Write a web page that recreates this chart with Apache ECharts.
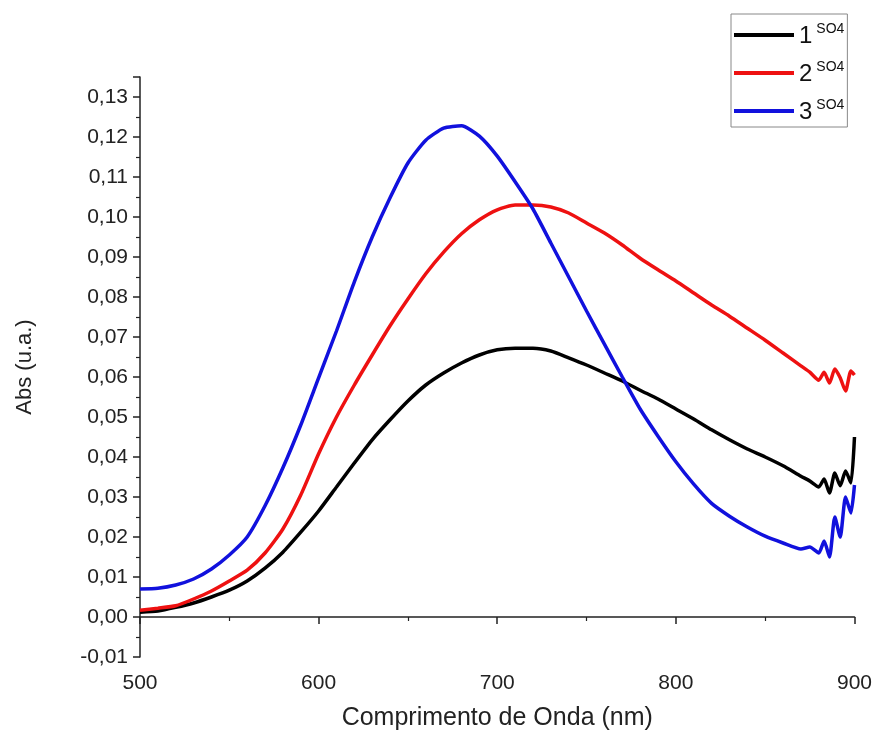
<!DOCTYPE html>
<html>
<head>
<meta charset="utf-8">
<script src="https://cdn.jsdelivr.net/npm/echarts@6/dist/echarts.min.js"></script>
<style>
html,body{margin:0;padding:0;background:#fff;}
#chart{width:875px;height:742px;}
</style>
</head>
<body>
<div id="chart"></div>
<script>
// Wavelength (nm)
var wavelengths = [500,510,520,530,540,550,560,570,580,590,600,610,620,630,640,650,660,670,680,690,700,710,720,730,740,750,760,770,780,790,800,810,820,830,840,850,860,870,875,880,883,886,889,892,895,898,900];

var seriesNames = ['1','2','3'];

var abs1 = [0.0012,0.0015,0.0024,0.0035,0.0050,0.0067,0.0090,0.0122,0.0162,0.0212,0.0265,0.0325,0.0385,0.0443,0.0493,0.0540,0.0580,0.0610,0.0635,0.0655,0.0668,0.0672,0.0672,0.0665,0.0648,0.0630,0.0610,0.0590,0.0567,0.0545,0.0520,0.0495,0.0468,0.0443,0.0420,0.0400,0.0378,0.0352,0.0340,0.0325,0.0345,0.0310,0.0360,0.0328,0.0365,0.0335,0.0450];

var abs2 = [0.0017,0.0022,0.0028,0.0045,0.0065,0.0090,0.0117,0.0160,0.0220,0.0305,0.0408,0.0500,0.0580,0.0655,0.0728,0.0795,0.0858,0.0912,0.0958,0.0993,0.1018,0.1030,0.1030,0.1025,0.1010,0.0985,0.0960,0.0930,0.0897,0.0868,0.0840,0.0810,0.0780,0.0752,0.0722,0.0692,0.0660,0.0628,0.0612,0.0592,0.0612,0.0585,0.0620,0.0598,0.0565,0.0615,0.0605];

var abs3 = [0.0070,0.0072,0.0080,0.0095,0.0120,0.0155,0.0200,0.0278,0.0373,0.0480,0.0598,0.0715,0.0838,0.0950,0.1048,0.1135,0.1192,0.1222,0.1228,0.1202,0.1152,0.1088,0.1020,0.0935,0.0850,0.0765,0.0682,0.0600,0.0520,0.0452,0.0388,0.0332,0.0284,0.0252,0.0225,0.0202,0.0185,0.0170,0.0175,0.0160,0.0190,0.0150,0.0250,0.0200,0.0300,0.0260,0.0330];

var colors = ['#000000','#ee1111','#1111dd'];
var yLabelMin = -0.01, yMax = 0.135, yStep = 0.01;
var xMin = 500, xMax = 900, xStep = 100;

function pairs(vals){ return wavelengths.map(function(w,i){ return [w, vals[i]]; }); }
var allVals = [abs1, abs2, abs3];

var chart = echarts.init(document.getElementById('chart'), null, {renderer:'canvas'});
var font = 'Liberation Sans, Arial, sans-serif';

var option = {
  backgroundColor: '#ffffff',
  animation: false,
  textStyle: {fontFamily: font},
  grid: {left: 140, right: 20, top: 77, bottom: 85},
  legend: {
    orient: 'vertical',
    left: 731, top: 14,
    padding: [8, 3, 3, 3],
    itemGap: 12,
    itemWidth: 60, itemHeight: 4,
    icon: 'rect',
    borderColor: '#888', borderWidth: 1,
    data: seriesNames,
    formatter: function(n){ return '{n|' + n + '}{s|SO4}'; },
    textStyle: {
      fontFamily: font,
      rich: {
        n: {fontSize: 24, color: '#111', lineHeight: 26, fontFamily: font, verticalAlign: 'bottom'},
        s: {fontSize: 14, color: '#111', lineHeight: 26, fontFamily: font, verticalAlign: 'top', padding: [0,0,10,4]}
      }
    }
  },
  xAxis: {
    type: 'value', min: xMin, max: xMax, interval: xStep,
    name: 'Comprimento de Onda (nm)', nameLocation: 'middle', nameGap: 49,
    nameTextStyle: {fontSize: 25, color: '#222', fontFamily: font},
    axisLine: {show: true, lineStyle: {color: '#222', width: 1.5}},
    axisTick: {show: true, inside: false, length: 7, lineStyle: {color: '#222', width: 1.5}},
    minorTick: {show: true, splitNumber: 2, length: 4, lineStyle: {color: '#222', width: 1.2}},
    axisLabel: {fontSize: 21, color: '#222', margin: 16, fontFamily: font},
    splitLine: {show: false}
  },
  yAxis: {
    type: 'value', min: yLabelMin, max: yMax, interval: yStep,
    name: 'Abs (u.a.)', nameLocation: 'middle', nameGap: 104, nameRotate: 90,
    nameTextStyle: {fontSize: 22, color: '#222', fontFamily: font},
    axisLine: {show: true, lineStyle: {color: '#222', width: 1.5}},
    axisTick: {show: true, inside: false, length: 7, lineStyle: {color: '#222', width: 1.5}},
    minorTick: {show: true, splitNumber: 2, length: 4, lineStyle: {color: '#222', width: 1.2}},
    axisLabel: {
      fontSize: 21, color: '#222', margin: 12, fontFamily: font,
      formatter: function(v){
        var k = Math.round(v / yStep);
        if (Math.abs(v - k * yStep) > 1e-6) return '';
        return (k * yStep).toFixed(2).replace('.', ',');
      }
    },
    splitLine: {show: false}
  },
  series: seriesNames.map(function(n, i){
    return {
      name: n, type: 'line', data: pairs(allVals[i]),
      showSymbol: false, symbol: 'none',
      lineStyle: {color: colors[i], width: 3.5},
      itemStyle: {color: colors[i]},
      smooth: 0.2
    };
  })
};
chart.setOption(option);
</script>
</body>
</html>
